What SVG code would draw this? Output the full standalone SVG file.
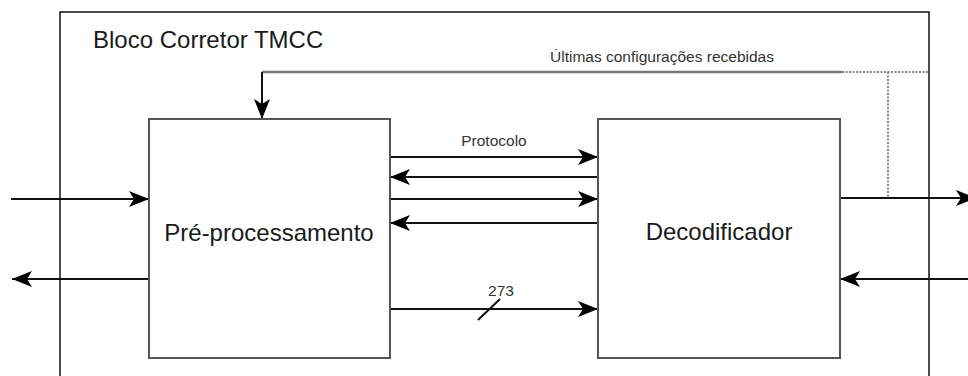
<svg xmlns="http://www.w3.org/2000/svg" width="968" height="376" viewBox="0 0 968 376">
<defs>
<marker id="arr" markerUnits="userSpaceOnUse" markerWidth="22" markerHeight="16" refX="20" refY="8" orient="auto" overflow="visible">
<path d="M0,0 L20,8 L0,16 L5,8 Z" fill="#000"/>
</marker>
</defs>
<style>
.frame{fill:none;stroke:#111;stroke-width:1.5}
.box{fill:#fff;stroke:#555;stroke-width:2}
.ln{fill:none;stroke:#111;stroke-width:2}
.arrow{fill:none;stroke:#111;stroke-width:2;marker-end:url(#arr)}
.fb{fill:none;stroke:#777;stroke-width:2.5}
.dot{fill:none;stroke:#888;stroke-width:2;stroke-dasharray:2,1.5}
.big{font-family:"Liberation Sans",Arial,sans-serif;font-size:24px;fill:#1a1a1a}
.small{font-family:"Liberation Sans",Arial,sans-serif;font-size:15.5px;fill:#333}
</style>
<rect class="frame" x="60" y="12" width="869" height="380"/>
<text class="big" x="93" y="48">Bloco Corretor TMCC</text>
<g id="connectors">
<path class="fb" d="M262,72 H842"/>
<path class="dot" d="M842,72 H929"/>
<path class="dot" d="M888,72 V198"/>
<path class="arrow" d="M262,72 V119"/>
<path class="arrow" d="M11,199 H149"/>
<path class="arrow" d="M149,279 H12"/>
<path class="arrow" d="M390,157 H598"/>
<path class="arrow" d="M598,177 H390"/>
<path class="arrow" d="M390,199 H598"/>
<path class="arrow" d="M598,223 H390"/>
<path class="arrow" d="M390,309 H598"/>
<path class="ln" d="M478,320 L500,299"/>
<path class="arrow" d="M840,198 H976"/>
<path class="arrow" d="M968,279 H840"/>
<text class="small" x="662" y="62" text-anchor="middle">Últimas configurações recebidas</text>
<text class="small" x="494" y="146" text-anchor="middle">Protocolo</text>
<text class="small" x="501" y="296" text-anchor="middle">273</text>
</g>
<g id="preproc">
<rect class="box" x="149" y="119" width="241" height="239"/>
<text class="big" x="269" y="241" text-anchor="middle">Pré-processamento</text>
</g>
<g id="decod">
<rect class="box" x="598" y="119" width="242" height="239"/>
<text class="big" x="719" y="240" text-anchor="middle">Decodificador</text>
</g>
</svg>
